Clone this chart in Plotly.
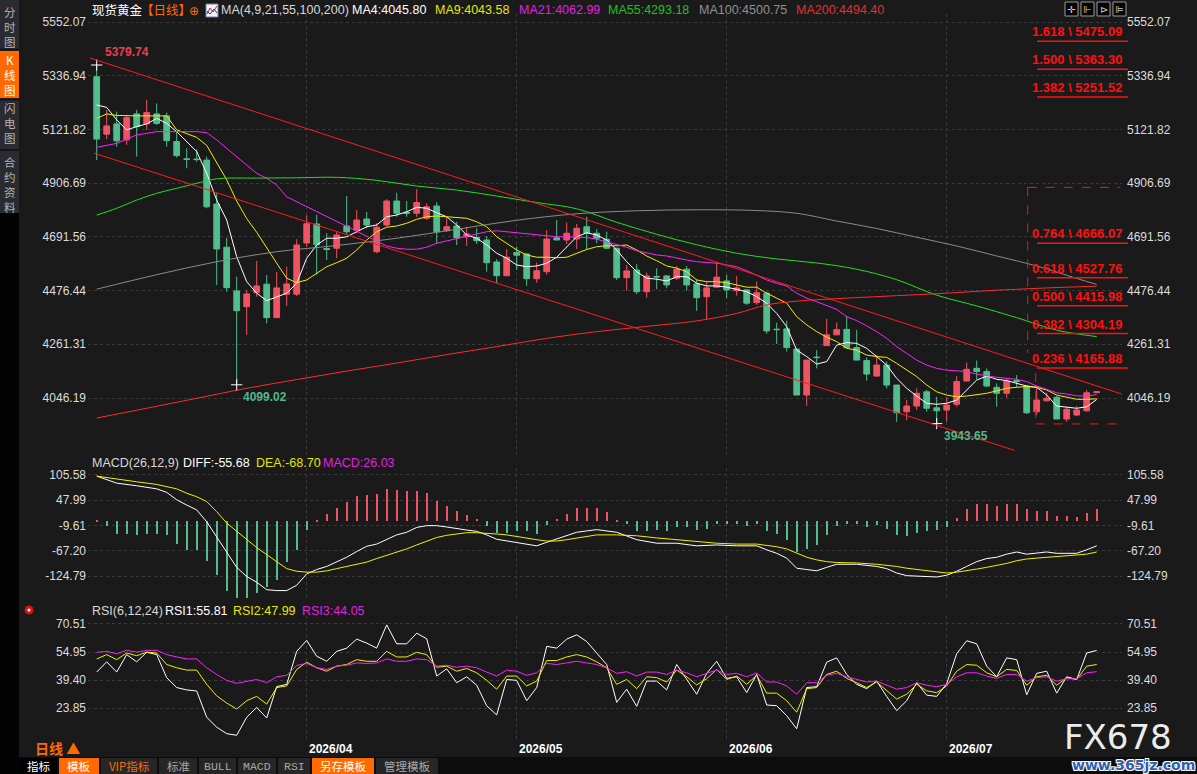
import plotly.graph_objects as go

W, H = 1197, 774

# ---------------- 数据 ----------------
# 日K线 (下标0为第一根)
OPEN = [5333, 5103, 5144, 5080, 5184, 5144, 5184, 5176, 5073, 5004,
        5003, 4999, 4823, 4650, 4475, 4412, 4468, 4502, 4368, 4462,
        4462, 4667, 4743, 4645, 4646, 4735, 4719, 4763, 4632, 4739,
        4835, 4790, 4786, 4766, 4815, 4716, 4735, 4692, 4689, 4679,
        4591, 4536, 4629, 4623, 4524, 4552, 4688, 4679, 4683, 4732,
        4706, 4682, 4646, 4528, 4559, 4472, 4533, 4535, 4526, 4562,
        4503, 4452, 4490, 4515, 4476, 4479, 4428, 4466, 4322, 4323,
        4242, 4058, 4210, 4256, 4299, 4321, 4248, 4196, 4134, 4178,
        4098, 3991, 4014, 4071, 4007, 3998, 4021, 4114, 4165, 4152,
        4089, 4065, 4116, 4094, 3991, 4035, 4049, 3962, 3978, 3995,
        4068]
HIGH = [5379.74, 5200, 5193, 5180, 5200, 5240, 5226, 5189, 5113, 5046,
        5042, 5013, 4866, 4687, 4532, 4479, 4595, 4539, 4551, 4572,
        4682, 4778, 4780, 4706, 4712, 4855, 4799, 4791, 4746, 4842,
        4868, 4835, 4883, 4826, 4830, 4768, 4752, 4732, 4726, 4695,
        4602, 4642, 4652, 4626, 4589, 4719, 4759, 4749, 4743, 4772,
        4722, 4712, 4646, 4579, 4582, 4548, 4566, 4539, 4575, 4575,
        4522, 4512, 4588, 4539, 4535, 4482, 4512, 4472, 4348, 4355,
        4245, 4198, 4238, 4363, 4348, 4375, 4319, 4209, 4218, 4192,
        4098, 4038, 4085, 4078, 4051, 4050, 4134, 4188, 4196, 4165,
        4105, 4125, 4138, 4098, 4094, 4068, 4054, 4011, 4014, 4078,
        4072]
LOW = [4999, 5083, 5053, 5060, 5013, 5120, 5140, 5053, 5009, 4966,
       4993, 4806, 4499, 4472, 4099.02, 4299, 4452, 4345, 4367, 4415,
       4455, 4651, 4540, 4599, 4606, 4699, 4706, 4726, 4626, 4732,
       4772, 4772, 4772, 4759, 4663, 4712, 4659, 4655, 4663, 4552,
       4506, 4536, 4559, 4495, 4508, 4539, 4679, 4663, 4643, 4639,
       4666, 4642, 4519, 4476, 4462, 4448, 4482, 4486, 4519, 4476,
       4395, 4361, 4486, 4446, 4456, 4419, 4419, 4303, 4263, 4232,
       4058, 4015, 4165, 4256, 4299, 4248, 4198, 4116, 4132, 4085,
       3951, 3958, 3998, 3991, 3943.65, 3951, 4011, 4114, 4121, 4090,
       4011, 4047, 4089, 3982, 3978, 4032, 3962, 3951, 3974, 3991,
       4066]
CLOSE = [5083, 5136, 5076, 5169, 5133, 5189, 5146, 5077, 5017, 5002,
         5001, 4812, 4643, 4488, 4396, 4463, 4495, 4368, 4487, 4503,
         4659, 4744, 4660, 4641, 4699, 4712, 4759, 4739, 4730, 4835,
         4786, 4786, 4829, 4812, 4712, 4732, 4688, 4703, 4676, 4588,
         4536, 4610, 4618, 4524, 4556, 4683, 4679, 4706, 4726, 4706,
         4686, 4646, 4528, 4555, 4472, 4535, 4531, 4499, 4562, 4499,
         4448, 4487, 4530, 4479, 4487, 4426, 4468, 4315, 4320, 4248,
         4058, 4198, 4208, 4299, 4320, 4248, 4198, 4142, 4178, 4098,
         3987, 4014, 4065, 4005, 3995, 4018, 4112, 4161, 4152, 4094,
         4065, 4114, 4112, 3987, 4038, 4045, 3962, 4001, 3998, 4067,
         4071]
IDX = list(range(len(CLOSE)))

MA4 = [5220, 5210, 5160, 5120, 5133, 5144, 5166, 5146, 5113, 5073,
       5033, 4946, 4839, 4759, 4612, 4512, 4466, 4436, 4452, 4466,
       4506, 4606, 4659, 4686, 4686, 4692, 4712, 4732, 4739, 4772,
       4779, 4792, 4810, 4806, 4788, 4772, 4739, 4699, 4686, 4659,
       4626, 4606, 4579, 4572, 4575, 4586, 4610, 4652, 4692, 4708,
       4699, 4679, 4639, 4592, 4552, 4526, 4522, 4515, 4532, 4532,
       4506, 4495, 4495, 4490, 4482, 4472, 4452, 4426, 4385, 4332,
       4238, 4212, 4182, 4192, 4258, 4268, 4265, 4245, 4212, 4178,
       4125, 4085, 4054, 4025, 4021, 4025, 4038, 4078, 4118, 4134,
       4121, 4116, 4105, 4094, 4089, 4058, 4014, 4011, 4005, 4011,
       4040]
MA9 = [5166, 5184, 5178, 5176, 5176, 5176, 5176, 5176, 5120, 5106,
       5090, 5058, 4990, 4920, 4835, 4765, 4710, 4646, 4586, 4526,
       4508, 4519, 4546, 4572, 4588, 4606, 4639, 4679, 4712, 4730,
       4735, 4746, 4762, 4772, 4775, 4772, 4770, 4766, 4752, 4732,
       4692, 4666, 4639, 4619, 4610, 4610, 4608, 4610, 4626, 4641,
       4652, 4656, 4656, 4659, 4639, 4615, 4596, 4575, 4566, 4552,
       4519, 4512, 4512, 4508, 4499, 4490, 4490, 4466, 4446, 4426,
       4372, 4339, 4312, 4290, 4272, 4245, 4238, 4218, 4212, 4209,
       4185, 4158, 4132, 4098, 4071, 4058, 4051, 4054, 4058, 4065,
       4075, 4085, 4089, 4092, 4089, 4078, 4058, 4049, 4041, 4041,
       4043]
MA21 = [5050, 5058, 5066, 5083, 5100, 5106, 5113, 5113, 5113, 5113,
        5113, 5109, 5080, 5046, 5013, 4979, 4946, 4926, 4899, 4852,
        4832, 4812, 4792, 4772, 4752, 4732, 4712, 4692, 4672, 4655,
        4646, 4642, 4642, 4650, 4666, 4676, 4686, 4695, 4703, 4712,
        4716, 4712, 4708, 4703, 4699, 4695, 4692, 4692, 4689, 4689,
        4682, 4672, 4659, 4650, 4636, 4626, 4619, 4615, 4606, 4599,
        4592, 4588, 4586, 4579, 4572, 4556, 4539, 4519, 4506, 4495,
        4466, 4446, 4432, 4415, 4401, 4372, 4356, 4335, 4312, 4285,
        4252, 4225, 4198, 4178, 4165, 4158, 4156, 4152, 4142, 4134,
        4129, 4125, 4121, 4112, 4094, 4081, 4067, 4062, 4055, 4054,
        4060]
MA55_X = [0, 2, 4, 6, 8, 10, 12, 16, 20, 24, 28, 32, 36, 40, 44, 48, 52,
          56, 60, 64, 68, 72, 76, 80, 84, 88, 92, 96, 100]
MA55 = [4779, 4806, 4839, 4866, 4886, 4906, 4924, 4927, 4928, 4930, 4918,
        4895, 4879, 4855, 4829, 4804, 4750, 4702, 4660, 4626, 4603, 4587,
        4562, 4520, 4458, 4415, 4368, 4318, 4292]
MA100_X = [0, 6, 12, 18, 24, 30, 36, 42, 48, 54, 60, 66, 70, 74, 78, 82,
           86, 90, 94, 98, 100]
MA100 = [4482, 4540, 4592, 4632, 4657, 4686, 4722, 4758, 4784, 4796, 4800,
         4797, 4786, 4755, 4725, 4690, 4655, 4615, 4575, 4525, 4501]
MA200_X = [0, 5, 10, 15, 20, 25, 30, 35, 40, 45, 50, 55, 60, 64, 67, 70,
           74, 80, 85, 90, 95, 100]
MA200 = [3966, 4005, 4045, 4085, 4120, 4154, 4186, 4220, 4252, 4285, 4312,
         4333, 4355, 4385, 4419, 4434, 4444, 4456, 4466, 4478, 4487, 4494]

# 通道线 (起点, 终点) = (K线下标, 价格)
UPPER_CHANNEL = [(-0.67, 5408), (102.5, 4062)]
LOWER_CHANNEL = [(-0.27, 5027), (91.8, 3836)]

# 黄金分割
FIB_RATIOS = [1.618, 1.500, 1.382, 0.764, 0.618, 0.500, 0.382, 0.236]
FIB_PRICES = [5475.09, 5363.30, 5251.52, 4666.07, 4527.76, 4415.98, 4304.19, 4165.88]
FIB_TOP, FIB_BOTTOM = 4889.7, 3942.3
FIB_X_UP, FIB_X_LOW = 93.1, 93.9

# 高低点标注
EXTREMES = [(0, 5379.74, "5379.74", "#e84050"),
            (14, 4099.02, "4099.02", "#4fb98a"),
            (84, 3943.65, "3943.65", "#4fb98a")]

# MACD(26,12,9)
HIST = [3, -11, -28, -28, -32, -28, -28, -32, -52, -66,
        -66, -91, -122, -158, -175, -175, -164, -149, -134, -92,
        -66, -19, 4, 17, 31, 44, 57, 61, 63, 74,
        72, 68, 70, 65, 46, 35, 23, 15, 6, -11,
        -27, -27, -23, -23, -30, -9, 6, 17, 30, 31,
        30, 21, 1, -7, -23, -23, -20, -22, -14, -14,
        -20, -17, -7, -7, -7, -11, -7, -23, -30, -42,
        -70, -64, -55, -32, -11, -7, -7, -14, -9, -17,
        -32, -34, -26, -23, -20, -14, 8, 29, 40, 40,
        36, 40, 40, 27, 24, 24, 13, 13, 10, 19,
        27]
DIFF_X = [0, 2, 4, 6, 7, 8, 9, 10, 11, 12, 13, 14, 15, 16, 17, 18, 19, 20,
          21, 22, 23, 24, 25, 26, 27, 28, 29, 30, 31, 32, 33, 34, 35, 36, 37,
          38, 39, 40, 41, 42, 43, 44, 45, 46, 47, 48, 49, 50, 52, 54, 56, 58,
          60, 62, 64, 66, 67, 68, 69, 70, 71, 72, 73, 74, 76, 78, 79, 80, 81,
          83, 84, 85, 86, 87, 88, 89, 90, 91, 92, 93, 94, 95, 96, 97, 98, 99,
          100]
DIFF = [103, 87, 81, 74, 66, 49, 37, 26, -1, -35, -69, -105, -126, -139,
        -156, -158, -158, -146, -120, -110, -103, -93, -82, -69, -57, -52,
        -42, -31, -25, -14, -10, -10, -13, -17, -20, -23, -31, -41, -45, -48,
        -52, -56, -48, -40, -32, -25, -22, -19, -25, -42, -50, -50, -56, -54,
        -56, -56, -65, -73, -84, -107, -110, -113, -105, -98, -98, -103, -108,
        -118, -124, -126, -127, -123, -114, -103, -92, -85, -82, -75, -70,
        -75, -73, -70, -73, -73, -73, -65, -56]
DEA = [103, 96, 90, 84, 79, 74, 64, 56, 45, 22, -4, -23, -41, -60, -76,
       -93, -108, -114, -116, -116, -113, -108, -103, -99, -93, -85, -78,
       -70, -63, -54, -45, -37, -32, -29, -26, -26, -27, -29, -31, -35, -38,
       -42, -45, -45, -42, -38, -35, -31, -31, -33, -38, -42, -46, -50, -52,
       -52, -55, -58, -63, -73, -82, -88, -92, -94, -95, -98, -100, -103,
       -107, -112, -116, -118, -116, -113, -109, -105, -101, -96, -90, -86,
       -84, -82, -80, -78, -76, -75, -70]

# RSI(6,12,24)
RSI1 = [43.8, 49.5, 43.8, 53.5, 49.5, 54.8, 53.5, 40.7, 35.2, 33.9,
        33.3, 18.7, 13.2, 9.6, 8.7, 18.7, 24.2, 18.3, 35.7, 37.0,
        55.3, 61.4, 52.6, 49.8, 55.3, 57.1, 62.1, 59.9, 57.1, 70.0,
        59.5, 59.5, 65.4, 62.3, 41.6, 45.6, 37.9, 41.2, 36.5, 25.1,
        20.0, 39.7, 39.2, 27.9, 35.2, 58.1, 57.1, 62.1, 64.5, 60.8,
        54.4, 48.0, 27.0, 34.3, 24.8, 38.8, 38.8, 33.9, 48.0, 40.1,
        31.5, 43.1, 49.8, 40.3, 41.2, 32.4, 42.5, 25.5, 25.1, 19.6,
        12.3, 35.2, 35.7, 49.3, 51.7, 42.5, 37.0, 34.6, 38.8, 30.3,
        22.4, 27.9, 37.9, 31.0, 30.3, 37.4, 54.0, 61.2, 59.5, 47.1,
        41.2, 51.7, 50.7, 31.2, 43.1, 44.3, 32.1, 41.2, 39.7, 54.4,
        55.8]
RSI2 = [51.1, 53.5, 50.7, 54.4, 52.9, 54.9, 54.4, 48.0, 46.2, 44.9,
        44.9, 37.0, 30.6, 26.6, 23.3, 27.9, 30.3, 26.0, 35.2, 36.1,
        45.3, 49.3, 46.2, 44.3, 47.1, 48.0, 50.7, 49.8, 49.8, 55.3,
        52.2, 52.2, 54.8, 53.5, 46.5, 47.1, 44.3, 45.8, 43.4, 39.2,
        34.3, 41.6, 41.6, 36.1, 38.8, 50.2, 50.2, 52.2, 53.5, 52.2,
        49.5, 46.2, 37.0, 39.7, 34.6, 41.2, 40.7, 38.3, 44.9, 41.2,
        36.7, 40.1, 45.3, 39.7, 41.6, 37.0, 42.0, 32.1, 32.1, 27.9,
        21.5, 34.6, 35.2, 42.5, 44.3, 40.3, 37.9, 35.2, 38.3, 33.4,
        28.8, 31.5, 37.0, 33.4, 32.4, 36.1, 44.3, 48.0, 47.6, 43.4,
        41.2, 45.3, 44.7, 36.5, 41.2, 42.0, 36.5, 40.7, 39.7, 47.1,
        48.0]
RSI3 = [54.8, 55.3, 54.0, 55.9, 54.9, 55.9, 55.9, 53.5, 52.2, 51.1,
        51.1, 46.2, 42.5, 39.2, 37.6, 38.8, 39.7, 37.9, 41.2, 42.0,
        47.5, 48.6, 46.2, 45.3, 47.1, 47.6, 48.9, 48.6, 48.9, 51.1,
        49.8, 49.8, 51.1, 50.7, 47.1, 47.6, 46.5, 47.1, 46.2, 43.8,
        41.6, 44.9, 44.3, 42.0, 43.4, 48.6, 48.0, 48.9, 49.8, 48.9,
        48.0, 46.2, 43.1, 44.0, 41.6, 43.8, 43.8, 42.5, 44.9, 43.4,
        41.2, 43.1, 44.9, 42.5, 43.1, 41.2, 43.4, 38.3, 38.3, 36.1,
        31.5, 37.9, 37.9, 42.0, 43.1, 41.2, 39.7, 38.3, 38.8, 36.5,
        34.3, 35.2, 37.9, 36.5, 35.7, 37.0, 41.2, 43.4, 43.4, 41.6,
        40.3, 42.5, 42.5, 38.8, 40.7, 41.2, 38.8, 40.1, 40.1, 43.4,
        44.0]

PRICE_TICKS = [4046.19, 4261.31, 4476.44, 4691.56, 4906.69, 5121.82, 5336.94, 5552.07]
MACD_TICKS = [-124.79, -67.20, -9.61, 47.99, 105.58]
RSI_TICKS = [23.85, 39.40, 54.95, 70.51]
MONTH_IDX = [21, 42, 63, 85]
MONTH_LABELS = ["2026/04", "2026/05", "2026/06", "2026/07"]

# ---------------- 样式 ----------------
BG = "#1a1a1a"
UP = "#ef5463"
DOWN = "#52bd8d"
GRID = "#3a3a3a"
FIB_RED = "#ff1010"
ORANGE = "#ff6a00"
LATIN = "Liberation Sans, Noto Sans CJK SC, sans-serif"
CJK = "Noto Sans CJK SC, sans-serif"


def px(x):
    return x / W


def py(y):
    return 1 - y / H


XD = [px(88), px(1122)]
XR = [-0.87, 102.53]
Y1, Y2, Y3 = [py(455), py(14)], [py(600), py(468)], [py(740), py(616)]
R1, R2, R3 = [3817.9, 5584.1], [-179.5, 121.5], [6.08, 74.95]

fig = go.Figure()

fig.add_trace(go.Candlestick(
    x=IDX, open=OPEN, high=HIGH, low=LOW, close=CLOSE,
    increasing=dict(line=dict(color=UP, width=1), fillcolor=UP),
    decreasing=dict(line=dict(color=DOWN, width=1), fillcolor=DOWN),
    whiskerwidth=0, hoverinfo="skip", xaxis="x", yaxis="y"))

for xs, ys, color, shape in [
        (IDX, MA4, "#ffffff", "linear"), (IDX, MA9, "#f0f000", "linear"),
        (IDX, MA21, "#ff20ff", "linear"), (MA55_X, MA55, "#22dd22", "spline"),
        (MA100_X, MA100, "#8a8a8a", "spline"), (MA200_X, MA200, "#ff2a2a", "spline")]:
    fig.add_trace(go.Scatter(x=xs, y=ys, mode="lines", line=dict(color=color, width=1, shape=shape),
                             hoverinfo="skip", xaxis="x", yaxis="y"))

fig.add_trace(go.Scatter(x=[e[0] for e in EXTREMES], y=[e[1] for e in EXTREMES], mode="markers",
                         marker=dict(symbol="cross-thin", size=8, line=dict(color="#ffffff", width=1)),
                         hoverinfo="skip", xaxis="x", yaxis="y"))

# MACD
fig.add_trace(go.Bar(x=IDX, y=HIST, width=0.13,
                     marker=dict(color=[UP if v >= 0 else DOWN for v in HIST], line=dict(width=0)),
                     hoverinfo="skip", xaxis="x2", yaxis="y2"))
fig.add_trace(go.Scatter(x=DIFF_X, y=DIFF, mode="lines", line=dict(color="#ffffff", width=1),
                         hoverinfo="skip", xaxis="x2", yaxis="y2"))
fig.add_trace(go.Scatter(x=DIFF_X, y=DEA, mode="lines", line=dict(color="#f0f000", width=1),
                         hoverinfo="skip", xaxis="x2", yaxis="y2"))

# RSI
for ys, color in [(RSI1, "#ffffff"), (RSI2, "#f0f000"), (RSI3, "#ff20ff")]:
    fig.add_trace(go.Scatter(x=IDX, y=ys, mode="lines", line=dict(color=color, width=1),
                             hoverinfo="skip", xaxis="x3", yaxis="y3"))

# 右侧坐标轴占位
for ya in ["y4", "y5", "y6"]:
    fig.add_trace(go.Scatter(x=[None], y=[None], xaxis="x", yaxis=ya, hoverinfo="skip"))

shapes = []
for (x0, y0), (x1, y1) in [UPPER_CHANNEL, LOWER_CHANNEL]:
    shapes.append(dict(type="line", xref="x", yref="y", x0=x0, y0=y0, x1=x1, y1=y1,
                       line=dict(color="#ff1a1a", width=1)))

# 黄金分割框
dash = dict(color=FIB_RED, width=1, dash="dash")
shapes += [
    dict(type="line", xref="x", yref="y", x0=FIB_X_UP, x1=XR[1] - 0.2, y0=FIB_TOP, y1=FIB_TOP, line=dash),
    dict(type="line", xref="x", yref="y", x0=FIB_X_UP, x1=FIB_X_UP, y0=FIB_TOP, y1=FIB_PRICES[-1] + 60, line=dash),
    dict(type="line", xref="x", yref="y", x0=FIB_X_LOW, x1=FIB_X_LOW, y0=FIB_PRICES[-1] - 20, y1=FIB_BOTTOM, line=dash),
    dict(type="line", xref="x", yref="y", x0=FIB_X_LOW, x1=XR[1], y0=FIB_BOTTOM, y1=FIB_BOTTOM, line=dash),
]
for p in FIB_PRICES:
    shapes.append(dict(type="line", xref="paper", yref="y", x0=px(1037), x1=px(1128), y0=p, y1=p,
                       line=dict(color=FIB_RED, width=1.5)))

# 左侧竖排标签
shapes.append(dict(type="rect", xref="paper", yref="paper", x0=0, x1=px(19), y0=py(213), y1=1,
                   fillcolor="#2a2b30", line=dict(width=0), layer="below"))
shapes.append(dict(type="rect", xref="paper", yref="paper", x0=0, x1=px(19), y0=0, y1=py(213),
                   fillcolor="#030303", line=dict(width=0), layer="below"))
shapes.append(dict(type="rect", xref="paper", yref="paper", x0=0, x1=px(19), y0=py(98), y1=py(51),
                   fillcolor=ORANGE, line=dict(width=0)))
for yy in [49.5, 99.5, 150]:
    shapes.append(dict(type="line", xref="paper", yref="paper", x0=0, x1=px(19), y0=py(yy), y1=py(yy),
                       line=dict(color="#151515", width=2)))

# 底部标签栏
TABS = [("指标", 19, 57, "#000000", "#ffffff"), ("模板", 59, 99, ORANGE, "#ffffff"),
        ("VIP指标", 101, 157, "#262626", ORANGE), ("标准", 159, 197, "#262626", "#a8a8a8"),
        ("BULL", 199, 236, "#262626", "#a8a8a8"), ("MACD", 238, 276, "#262626", "#a8a8a8"),
        ("RSI", 278, 310, "#262626", "#a8a8a8"), ("另存模板", 312, 374, ORANGE, "#ffffff"),
        ("管理模板", 376, 438, "#262626", "#a8a8a8")]
shapes.append(dict(type="rect", xref="paper", yref="paper", x0=px(19), x1=1, y0=0, y1=py(757),
                   fillcolor="#0c0c0c", line=dict(width=0)))
for _, x0, x1, bg, _c in TABS:
    shapes.append(dict(type="rect", xref="paper", yref="paper", x0=px(x0), x1=px(x1), y0=0, y1=py(758),
                       fillcolor=bg, line=dict(width=0)))

# 顶部右侧工具按钮
for x0 in [1065, 1081, 1097, 1113]:
    shapes.append(dict(type="rect", xref="paper", yref="paper", x0=px(x0), x1=px(x0 + 13),
                       y0=py(16), y1=py(2), fillcolor="#050505", line=dict(color="#9a9a9a", width=1)))

# MA图标
shapes.append(dict(type="rect", xref="paper", yref="paper", x0=px(206), x1=px(218), y0=py(17), y1=py(4),
                   fillcolor="#f4f4f4", line=dict(color="#6a7fb0", width=1)))
shapes.append(dict(type="path", xref="paper", yref="paper",
                   path=f"M {px(207)} {py(14)} L {px(210)} {py(8)} L {px(213)} {py(12)} L {px(217)} {py(6)}",
                   line=dict(color="#e02020", width=1)))
shapes.append(dict(type="path", xref="paper", yref="paper",
                   path=f"M {px(207)} {py(11)} L {px(210)} {py(14)} L {px(214)} {py(9)} L {px(217)} {py(13)}",
                   line=dict(color="#2040d0", width=1)))

# RSI 区域小图标
shapes.append(dict(type="circle", xref="paper", yref="paper", x0=px(25), x1=px(33), y0=py(614), y1=py(606),
                   fillcolor="#e01010", line=dict(color="#e01010", width=1)))
shapes.append(dict(type="circle", xref="paper", yref="paper", x0=px(27.5), x1=px(30.5), y0=py(611.5), y1=py(608.5),
                   fillcolor="#ffffff", line=dict(width=0)))

ann = []


def text(t, x, y, color, size=13, anchor="left", family=LATIN, bold=False, **kw):
    if bold:
        t = f"<b>{t}</b>"
    ann.append(dict(text=t, x=px(x), y=py(y), xref="paper", yref="paper", xanchor=anchor,
                    yanchor="middle", showarrow=False, borderpad=0,
                    font=dict(color=color, size=size, family=family), **kw))


# 主图标题
text("现货黄金", 91, 10, "#ffffff", 12.5, family=CJK)
text("【日线】", 140, 10, ORANGE, 12.5, family=CJK)
text("⊕", 188, 11, ORANGE, 12, family="DejaVu Sans")
for t, x, c in [("MA(4,9,21,55,100,200)", 220, "#d8d8d8"), ("MA4:4045.80", 351, "#ffffff"),
                ("MA9:4043.58", 434, "#e6e600"), ("MA21:4062.99", 518, "#e020e0"),
                ("MA55:4293.18", 607, "#20c020"), ("MA100:4500.75", 698, "#909090"),
                ("MA200:4494.40", 795, "#e03030")]:
    text(t, x, 10, c, 12.5)

for x0, sym in zip([1065, 1081, 1097, 1113], ["✛", "⊩", "⊳", "⊫"]):
    text(sym, x0 + 6.5, 9, "#d0d0d0", 10, anchor="center", family="DejaVu Sans")

# MACD 标题
for t, x, c in [("MACD(26,12,9)", 91, "#d8d8d8"), ("DIFF:-55.68", 182, "#ffffff"),
                ("DEA:-68.70", 255, "#e6e600"), ("MACD:26.03", 322, "#e020e0")]:
    text(t, x, 463, c, 12.5)

# RSI 标题
for t, x, c in [("RSI(6,12,24)", 91, "#d8d8d8"), ("RSI1:55.81", 164, "#ffffff"),
                ("RSI2:47.99", 232, "#e6e600"), ("RSI3:44.05", 301, "#e020e0")]:
    text(t, x, 611, c, 12.5)

# 黄金分割标签
for r, p in zip(FIB_RATIOS, FIB_PRICES):
    ann.append(dict(text=f"<b>{r:.3f} \\ {p:.2f}</b>", x=px(1123), y=p, xref="paper", yref="y",
                    xanchor="right", yanchor="bottom", yshift=1, showarrow=False, borderpad=0,
                    font=dict(color=FIB_RED, size=13, family=LATIN)))

# 高低点数值
for (i, p, t, c), (dx, dy) in zip(EXTREMES, [(6, 13), (4, -12), (5, -12)]):
    ann.append(dict(text=f"<b>{t}</b>", x=i, y=p, xref="x", yref="y", xanchor="left", yanchor="middle",
                    xshift=dx, yshift=dy, showarrow=False, font=dict(color=c, size=12, family=LATIN)))

# 左侧竖排文字
SIDE_TABS = [("分时图", 27, "#b4b4b4"), ("K线图", 75, "#ffffff"),
             ("闪电图", 123, "#b4b4b4"), ("合约资料", 184, "#b4b4b4")]
for word, yc, c in SIDE_TABS:
    text("<br>".join(word), 9.5, yc, c, 11.5, anchor="center", family=CJK)

text("日线 ▲", 34, 748, ORANGE, 14, family=CJK, bold=True)
for t, x0, x1, _bg, c in TABS:
    fam = "Liberation Mono, monospace" if t in ("BULL", "MACD", "RSI") else CJK
    text(t, (x0 + x1) / 2, 766, c, 11.5, anchor="center", family=fam)

# 水印
text("FX678", 1118, 737, "#ececec", 34, anchor="center", family="DejaVu Sans")
ann.append(dict(text="<b>www.365jz.com</b>", x=px(1133), y=py(765), xref="paper", yref="paper",
                xanchor="center", yanchor="middle", showarrow=False, borderpad=0,
                font=dict(color="#2f5fae", size=14, family="DejaVu Sans",
                          shadow="1px 1px 0 #fff, -1px -1px 0 #fff, 1px -1px 0 #fff, -1px 1px 0 #fff")))

tickfont = dict(color="#dcdcdc", size=12, family=LATIN)


def xax(anchor, labels=False):
    d = dict(domain=XD, range=XR, anchor=anchor, tickvals=MONTH_IDX, showgrid=True, gridcolor=GRID,
             griddash="dot", zeroline=False, showline=False, ticks="", showticklabels=labels,
             fixedrange=True)
    if labels:
        d.update(ticktext=[f"<b>{m}</b>" for m in MONTH_LABELS], ticklabelshift=24,
                 ticklabelstandoff=0, tickfont=dict(color="#ffffff", size=12, family=LATIN))
    return d


def yax(domain, rng, ticks, fmt="{:.2f}", anchor="x"):
    return dict(domain=domain, range=rng, anchor=anchor, tickvals=ticks,
                ticktext=[fmt.format(v) for v in ticks], tickfont=tickfont, showgrid=True,
                gridcolor=GRID, griddash="dot", zeroline=False, showline=False, ticks="",
                ticklabelstandoff=1, fixedrange=True)


def yright(base, rng, ticks, anchor):
    return dict(overlaying=base, side="right", range=rng, anchor=anchor, tickvals=ticks,
                ticktext=[f"{v:.2f}" for v in ticks], tickfont=tickfont, showgrid=False,
                zeroline=False, showline=False, ticks="", ticklabelstandoff=4, fixedrange=True)


fig.update_layout(
    width=W, height=H, margin=dict(l=0, r=0, t=0, b=0),
    paper_bgcolor=BG, plot_bgcolor=BG, showlegend=False, boxgap=0.18, bargap=0,
    xaxis=xax("y"), xaxis2=xax("y2"), xaxis3=xax("y3", labels=True),
    yaxis=yax(Y1, R1, PRICE_TICKS),
    yaxis2=yax(Y2, R2, MACD_TICKS, anchor="x2"),
    yaxis3=yax(Y3, R3, RSI_TICKS, anchor="x3"),
    yaxis4=yright("y", R1, PRICE_TICKS, "x"),
    yaxis5=yright("y2", R2, MACD_TICKS, "x2"),
    yaxis6=yright("y3", R3, RSI_TICKS, "x3"),
    shapes=shapes, annotations=ann,
)
fig.update_xaxes(rangeslider_visible=False)

# 去掉页面默认边距和工具栏, 让图表贴齐窗口
fig.write_html("out.html", config={"displayModeBar": False},
               post_script="document.body.style.margin='0';document.body.style.overflow='hidden';")
